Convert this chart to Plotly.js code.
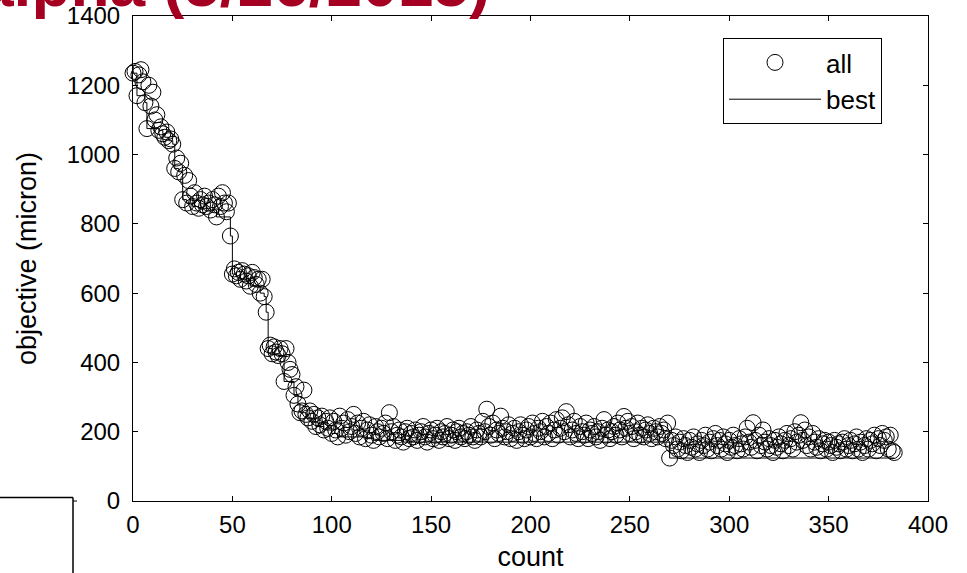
<!DOCTYPE html>
<html>
<head>
<meta charset="utf-8">
<script src="https://cdn.plot.ly/plotly-3.0.1.min.js"></script>
<style>html,body{margin:0;padding:0;background:#fff;}#chart{width:967px;height:573px;}</style>
</head>
<body>
<div id="chart"></div>
<script>
// ---- data ----
const titleText = "alpha (5/26/2015)";
const xTicks = [0, 50, 100, 150, 200, 250, 300, 350, 400];
const yTicks = [0, 200, 400, 600, 800, 1000, 1200, 1400];

// objective of every evaluation, in order of count (count = index)
const allObjective = [
  1235,1240,1170,1230,1245,1210,1150,1075,1200,1140,
  1180,1100,1115,1070,1080,1060,1050,1065,1040,1045,
  1030,960,990,950,975,870,940,860,925,880,
  850,890,860,845,870,855,880,850,860,840,
  870,855,820,880,850,890,860,835,860,765,
  655,670,650,660,640,665,655,635,650,620,
  660,645,625,640,600,640,590,545,440,450,
  425,445,430,420,440,425,345,440,400,380,
  365,305,330,280,255,260,320,250,240,260,
  230,250,215,240,220,245,205,230,210,240,
  195,230,205,185,245,210,225,190,235,200,
  215,250,195,225,185,210,230,180,205,220,
  190,175,215,200,185,210,195,225,180,255,
  200,215,175,190,205,185,170,200,210,180,
  195,185,205,175,190,200,215,185,170,195,
  205,180,190,210,175,200,185,195,215,180,
  190,205,175,200,210,185,195,180,200,190,
  215,185,175,205,195,185,230,200,265,215,
  190,225,180,205,195,245,210,185,200,220,
  180,195,210,175,200,220,190,180,205,215,
  185,225,195,180,210,200,230,185,215,195,
  225,180,205,235,190,210,240,200,258,220,
  185,205,230,195,180,215,200,190,225,180,
  205,195,215,185,200,175,210,235,190,205,
  180,200,215,190,225,205,185,244,210,230,
  195,215,180,200,225,190,210,185,205,220,
  195,180,210,200,185,215,195,205,180,225,
  124,175,160,185,150,170,145,180,160,140,
  175,155,185,150,165,140,175,160,190,150,
  170,145,180,195,160,175,150,185,165,140,
  175,155,190,160,145,180,165,150,185,210,
  170,155,226,175,145,190,160,205,170,150,
  180,160,140,175,155,185,165,145,175,195,
  160,180,150,200,170,190,226,175,205,160,
  185,150,195,170,155,180,145,165,175,150,
  170,160,140,175,155,165,145,170,180,150,
  160,175,145,165,185,150,170,140,160,180,
  150,175,165,190,145,180,160,195,175,185,
  150,190,145,140
];

// best-so-far line: count where it steps, and its value from there on
const bestCount = [0,2,6,7,13,15,16,18,20,21,23,25,27,30,33,39,42,49,50,52,54,57,59,64,66,67,68,70,73,76,81,83,84,87,88,90,92,96,100,103,117,121,136,270,383];
const bestObjective = [1235,1170,1150,1075,1070,1060,1050,1040,1030,960,950,870,860,850,845,840,820,765,655,650,640,635,620,600,590,545,440,425,420,345,305,280,255,250,240,230,215,205,195,185,180,175,170,124,124];

const counts = allObjective.map((_, i) => i);

// ---- layout constants ----
const FONT = "Liberation Sans, Arial, Helvetica, sans-serif";
const W = 967, H = 573, L = 133, R = 39, T = 16, B = 72;
const pw = W - L - R, ph = H - T - B;
const px = v => (v - L) / pw;            // pixel x -> paper
const py = v => (H - B - v) / ph;        // pixel y -> paper

const traces = [
  {
    x: counts, y: allObjective, name: "all", type: "scatter", mode: "markers",
    marker: {symbol: "circle-open", size: 16, color: "#000", line: {width: 1, color: "#000"}},
    cliponaxis: false
  },
  {
    x: bestCount, y: bestObjective, name: "best", type: "scatter", mode: "lines",
    line: {color: "#000", width: 1, shape: "hv"}
  }
];

const axisCommon = {
  showline: true, linecolor: "#000", linewidth: 1, mirror: "ticks",
  ticks: "inside", ticklen: 5, tickwidth: 1, tickcolor: "#000",
  showgrid: false, zeroline: false,
  tickfont: {family: FONT, size: 24, color: "#000"}
};

const layout = {
  width: W, height: H,
  margin: {l: L, r: R, t: T, b: B, pad: 0},
  paper_bgcolor: "#fff", plot_bgcolor: "#fff",
  font: {family: FONT, color: "#000"},
  showlegend: true,
  legend: {
    x: px(882), y: py(38), xanchor: "right", yanchor: "top",
    bordercolor: "#000", borderwidth: 1, bgcolor: "#fff",
    font: {family: FONT, size: 26, color: "#000"},
    itemwidth: 92, tracegroupgap: 0
  },
  xaxis: Object.assign({}, axisCommon, {
    range: [0, 400], tickvals: xTicks, ticktext: xTicks.map(String),
    ticklabelstandoff: 2,
    title: {text: "count", font: {family: FONT, size: 27, color: "#000"}, standoff: 10}
  }),
  yaxis: Object.assign({}, axisCommon, {
    range: [0, 1400], tickvals: yTicks, ticktext: yTicks.map(String),
    ticklabelstandoff: 7,
    title: {text: "objective (micron)", font: {family: FONT, size: 27, color: "#000"}, standoff: 22}
  }),
  annotations: [
    {
      text: "<b>" + titleText + "</b>", xref: "paper", yref: "paper",
      x: px(-24), y: py(22), xanchor: "left", yanchor: "bottom",
      showarrow: false, font: {family: FONT, size: 64, color: "#A50021"}
    }
  ],
  shapes: [
    {type: "line", xref: "paper", yref: "paper", x0: px(0), x1: px(73), y0: py(497.5), y1: py(497.5), line: {color: "#000", width: 1.5}},
    {type: "line", xref: "paper", yref: "paper", x0: px(73), x1: px(73), y0: py(497.5), y1: py(573), line: {color: "#000", width: 1.5}},
    {type: "line", xref: "paper", yref: "paper", x0: px(73), x1: px(77), y0: py(501), y1: py(501), line: {color: "#000", width: 1}}
  ]
};

Plotly.newPlot("chart", traces, layout, {staticPlot: true, displayModeBar: false});
</script>
</body>
</html>
